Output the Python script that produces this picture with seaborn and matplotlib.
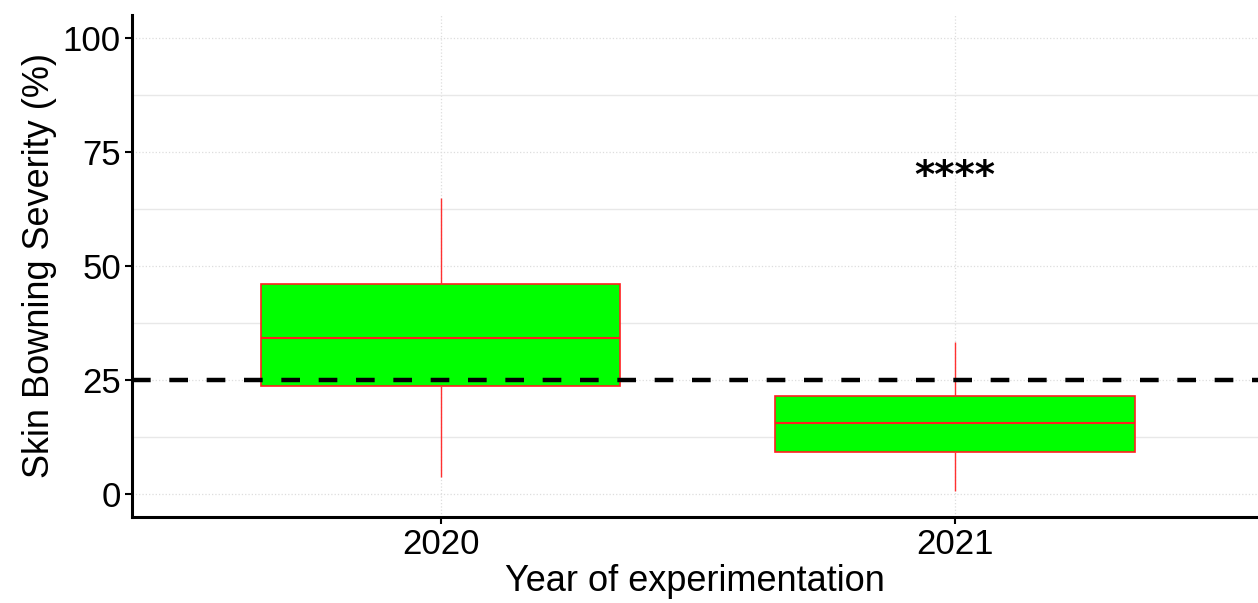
import matplotlib
matplotlib.use("Agg")
import matplotlib.pyplot as plt
import pandas as pd
import seaborn as sns
from matplotlib.ticker import MultipleLocator

# 数据：每年的箱线图五数概括（最小值、下四分位、中位数、上四分位、最大值）
years = ["2020", "2021"]
stats_2020 = [3.7, 23.7, 34.2, 46.1, 64.9]
stats_2021 = [0.7, 9.2, 15.6, 21.5, 33.3]
threshold = 25
signif_label = "****"
signif_y = 69.5

df = pd.DataFrame({
    "year": [years[0]] * len(stats_2020) + [years[1]] * len(stats_2021),
    "severity": stats_2020 + stats_2021,
})

sns.set_theme(style="white")
plt.rcParams["font.family"] = ["Liberation Sans", "DejaVu Sans"]

fig = plt.figure(figsize=(12.58, 6.03), dpi=100)
ax = fig.add_axes([0.105, 0.143, 0.895, 0.832])

sns.boxplot(data=df, x="year", y="severity", ax=ax, width=0.7, whis=1.5,
            color="#00ff00", saturation=1, linecolor="#ff0000", linewidth=1.2,
            showfliers=False,
            boxprops=dict(facecolor="#00ff00", edgecolor="#ff2020"),
            whiskerprops=dict(color="#ff3030", linewidth=1.0),
            medianprops=dict(color="#ff2020", linewidth=1.5),
            capprops=dict(linewidth=0))

ax.axhline(threshold, color="black", linewidth=3.2, linestyle=(0, (4.2, 4.2)), zorder=5)
# 显著性标记
ax.text(1, signif_y, signif_label, ha="center", va="center", fontsize=28,
        fontweight="bold", color="black", family=["DejaVu Sans"])

ax.set_xlim(-0.6, 1.59)
ax.set_ylim(-5, 105)
ax.yaxis.set_major_locator(MultipleLocator(25))
ax.yaxis.set_minor_locator(MultipleLocator(12.5))
ax.grid(which="major", color="#dddddd", linestyle=":", linewidth=0.9)
ax.grid(which="minor", axis="y", color="#e8e8e8", linestyle="-", linewidth=1.0)
ax.set_axisbelow(True)

for s in ["top", "right"]:
    ax.spines[s].set_visible(False)
for s in ["left", "bottom"]:
    ax.spines[s].set_color("black")
    ax.spines[s].set_linewidth(2.2)

ax.tick_params(axis="both", which="major", labelsize=25, length=5, width=1.5,
               color="black", labelcolor="black", left=True, bottom=True, pad=3)
ax.tick_params(axis="y", which="minor", length=0)

ax.set_xlabel("Year of experimentation", fontsize=26, color="black", labelpad=2)
ax.set_ylabel("Skin Bowning Severity (%)", fontsize=26, color="black", labelpad=4)

fig.savefig("out.png", dpi=100)
